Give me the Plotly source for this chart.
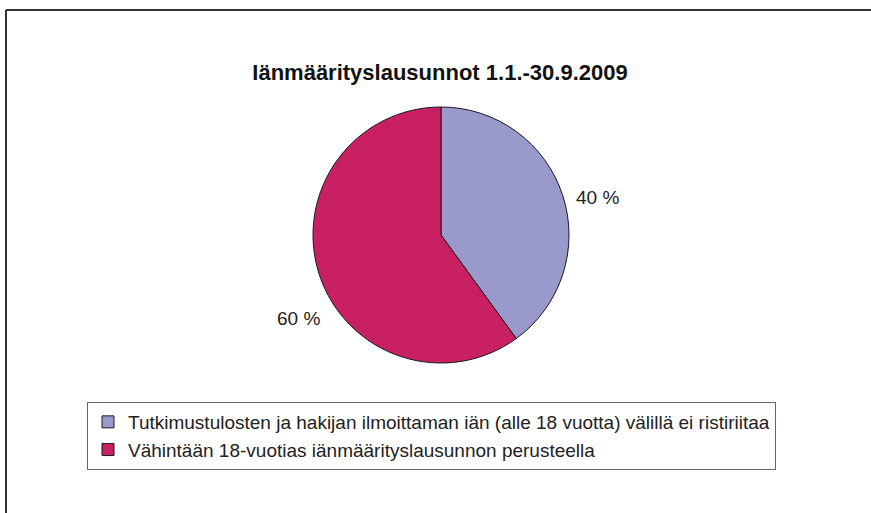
import plotly.graph_objects as go

title_text = "Iänmäärityslausunnot 1.1.-30.9.2009"
labels = [
    "Tutkimustulosten ja hakijan ilmoittaman iän (alle 18 vuotta) välillä ei ristiriitaa",
    "Vähintään 18-vuotias iänmäärityslausunnon perusteella",
]
values = [40, 60]
colors = ["#9999CC", "#C91F63"]

W, H = 871, 513
FONT = "Liberation Sans, Arial, sans-serif"

def px(x):
    return x / W

def py(y):
    return 1 - y / H

fig = go.Figure()
fig.add_trace(go.Pie(
    labels=labels,
    values=values,
    sort=False,
    direction="clockwise",
    rotation=0,
    marker=dict(colors=colors, line=dict(color="#1a1a1a", width=1)),
    textinfo="none",
    hoverinfo="label+value",
    domain=dict(x=[px(313), px(569)], y=[py(363), py(107)]),
))

# percentage labels (text from data)
label_pos = [(574, 197, "left"), (322, 318, "right")]
for v, (x, y, anc) in zip(values, label_pos):
    fig.add_annotation(x=px(x), y=py(y), xref="paper", yref="paper",
                       text=f"{v} %", showarrow=False, xanchor=anc, yanchor="middle",
                       font=dict(family=FONT, size=19, color="#222222"))

# outer frame (top and left edges)
fig.add_shape(type="line", xref="paper", yref="paper", x0=px(6), y0=py(10), x1=1.01, y1=py(10),
              line=dict(color="#333333", width=2))
fig.add_shape(type="line", xref="paper", yref="paper", x0=px(6), y0=py(10), x1=px(6), y1=-0.01,
              line=dict(color="#333333", width=2))

fig.update_layout(
    width=W, height=H,
    margin=dict(l=0, r=0, t=0, b=0),
    paper_bgcolor="white",
    plot_bgcolor="white",
    title=dict(text=f"<b>{title_text}</b>", x=px(440), xanchor="center",
               y=py(72), yanchor="middle",
               font=dict(family=FONT, size=22, color="#111111")),
    font=dict(family=FONT, color="#222222"),
    legend=dict(
        x=px(87), y=py(402), xanchor="left", yanchor="top",
        bgcolor="white", bordercolor="#666666", borderwidth=1,
        font=dict(family=FONT, size=19, color="#222222"),
        traceorder="normal",
        entrywidth=665, entrywidthmode="pixels",
    ),
    showlegend=True,
)

fig.write_html("out.html", config={"displayModeBar": False},
               post_script="document.body.style.margin='0';")
